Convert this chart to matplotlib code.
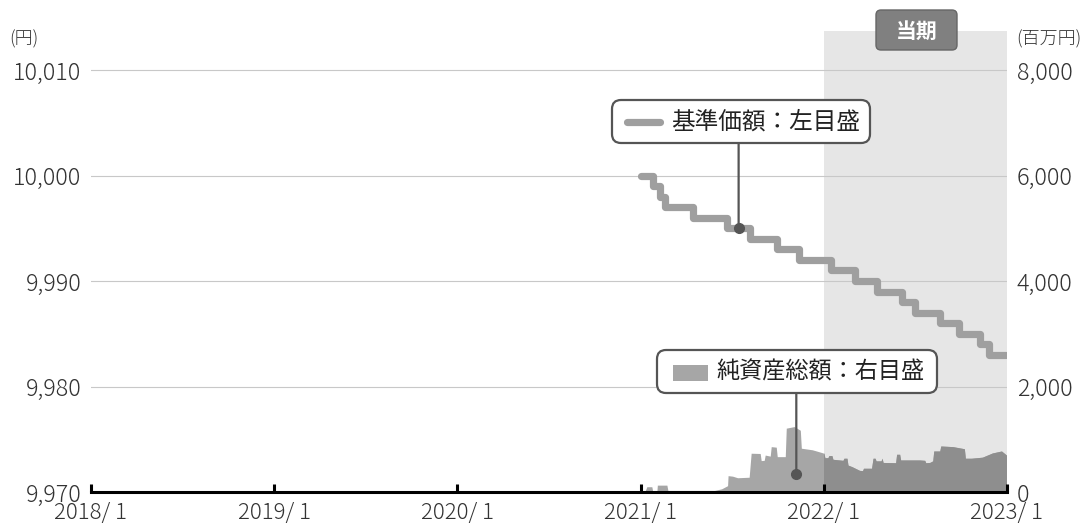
import matplotlib
matplotlib.use('Agg')
import matplotlib.pyplot as plt
import matplotlib.dates as mdates
import matplotlib.transforms as mtransforms
from matplotlib.patches import FancyBboxPatch, Rectangle
from matplotlib.lines import Line2D
import pandas as pd

plt.rcParams['font.family'] = ['Noto Sans CJK JP', 'DejaVu Sans']

# ---------------- data ----------------
nav_dates = ['2021-01-01', '2021-01-25', '2021-02-08', '2021-02-18', '2021-04-15',
             '2021-06-21', '2021-08-06', '2021-09-29', '2021-11-13', '2022-01-15',
             '2022-03-04', '2022-04-17', '2022-06-05', '2022-07-01', '2022-08-20',
             '2022-09-28', '2022-11-08', '2022-11-27', '2022-12-30']
nav_values = [10000, 9999, 9998, 9997, 9996, 9995, 9994, 9993, 9992, 9991,
              9990, 9989, 9988, 9987, 9986, 9985, 9984, 9983, 9983]

asset_dates = ['2021-01-09', '2021-01-13', '2021-01-23', '2021-01-25', '2021-02-02',
               '2021-02-03', '2021-02-22', '2021-02-24', '2021-05-28', '2021-06-11',
               '2021-06-23', '2021-06-24', '2021-07-03', '2021-07-13', '2021-08-05',
               '2021-08-09', '2021-08-27', '2021-08-29', '2021-09-04', '2021-09-06',
               '2021-09-16', '2021-09-18', '2021-09-28', '2021-09-30', '2021-10-16',
               '2021-10-18', '2021-11-03', '2021-11-15', '2021-11-17', '2021-12-09',
               '2021-12-27', '2022-01-01', '2022-01-03', '2022-01-09', '2022-01-11',
               '2022-01-17', '2022-01-19', '2022-02-08', '2022-02-10', '2022-02-16',
               '2022-02-18', '2022-02-26', '2022-03-13', '2022-03-19', '2022-03-21',
               '2022-04-06', '2022-04-09', '2022-04-13', '2022-04-15', '2022-04-25',
               '2022-04-27', '2022-04-29', '2022-05-24', '2022-05-26', '2022-06-01',
               '2022-06-03', '2022-07-11', '2022-07-21', '2022-07-23', '2022-07-31',
               '2022-08-06', '2022-08-08', '2022-08-20', '2022-08-22', '2022-09-15',
               '2022-10-08', '2022-10-10', '2022-10-22', '2022-11-13', '2022-12-03',
               '2022-12-21', '2022-12-31']
asset_values = [0, 100, 100, 0, 0,
                130, 130, 30, 30, 60,
                120, 310, 300, 270, 280,
                735, 730, 595, 600, 700,
                680, 860, 850, 670, 670,
                1210, 1240, 1170, 830, 800,
                750, 735, 650, 650, 690,
                690, 620, 600, 640, 640,
                510, 480, 410, 405, 450,
                450, 640, 640, 590, 590,
                640, 560, 555, 715, 715,
                607, 607, 600, 555, 560,
                590, 777, 777, 872, 860,
                820, 640, 640, 660, 740,
                777, 700]

x_ticks = ['2018-01-01', '2019-01-01', '2020-01-01', '2021-01-01', '2022-01-01', '2023-01-01']
x_tick_labels = ['2018/ 1', '2019/ 1', '2020/ 1', '2021/ 1', '2022/ 1', '2023/ 1']
left_ticks = [9970, 9980, 9990, 10000, 10010]
right_ticks = [0, 2000, 4000, 6000, 8000]
period_start, period_end = '2022-01-01', '2023-01-01'

nav_label = '基準価額：左目盛'
asset_label = '純資産総額：右目盛'
period_label = '当期'

# ---------------- figure ----------------
W, H = 1090, 528
fig = plt.figure(figsize=(W / 100, H / 100), dpi=100)
ax = fig.add_axes([91 / W, 36 / H, (1007 - 91) / W, (492 - 31) / H])
ax2 = ax.twinx()
ax.set_zorder(ax2.get_zorder() + 1)
ax.patch.set_visible(False)

nd = pd.to_datetime(nav_dates)
ad = pd.to_datetime(asset_dates)
ps, pe = pd.Timestamp(period_start), pd.Timestamp(period_end)

ax.set_xlim(pd.Timestamp(x_ticks[0]), pd.Timestamp(x_ticks[-1]))
ax.set_ylim(9970, 9970 + 40 * 461 / 422)
ax2.set_ylim(0, 8000 * 461 / 422)

TXT = '#333333'
FS = 16.8

# shaded current period (on lower axis)
ax2.axvspan(ps, pe, color='#e6e6e6', zorder=0, lw=0)

# net assets area
LIGHT, DARK = '#a6a6a6', '#8e8e8e'
ax2.fill_between(ad, asset_values, 0, color=LIGHT, lw=0, zorder=2)
dark = ax2.fill_between(ad, asset_values, 0, color=DARK, lw=0, zorder=3)
clip = Rectangle((mdates.date2num(ps), 0), mdates.date2num(pe) - mdates.date2num(ps), 1,
                 transform=ax2.get_xaxis_transform())
dark.set_clip_path(clip)

# NAV line
LINEC = '#9f9f9f'
ax.plot(nd, nav_values, drawstyle='steps-post', color=LINEC, lw=5.2,
        solid_joinstyle='round', solid_capstyle='round', zorder=4)

# grid & axes styling
ax.set_yticks(left_ticks)
ax.set_yticklabels([f'{v:,}' for v in left_ticks])
ax.grid(axis='y', color='#c8c8c8', lw=0.8)
ax.set_axisbelow(True)
ax.tick_params(axis='y', length=0, pad=7, labelsize=FS, labelcolor=TXT)
ax.set_xticks(pd.to_datetime(x_ticks))
ax.set_xticklabels(x_tick_labels)
ax.tick_params(axis='x', direction='in', length=6, width=2.2, color='black',
               pad=7, labelsize=16, labelcolor=TXT)
for s in ['top', 'left', 'right']:
    ax.spines[s].set_visible(False)
ax.spines['bottom'].set_linewidth(2.2)
ax.spines['bottom'].set_color('black')

ax2.set_yticks(right_ticks)
ax2.set_yticklabels([f'{v:,}' for v in right_ticks])
ax2.tick_params(axis='y', length=0, pad=7, labelsize=FS, labelcolor=TXT)
for s in ax2.spines.values():
    s.set_visible(False)
for lab in ax.get_xticklabels() + ax.get_yticklabels() + ax2.get_yticklabels():
    lab.set_fontweight('light')

# unit labels
fig.text(9 / W, 1 - 39 / H, '(円)', fontsize=13, color=TXT, va='center', ha='left',
         fontweight='light')
fig.text(1016 / W, 1 - 39 / H, '(百万円)', fontsize=13, color=TXT, va='center', ha='left',
         fontweight='light')

# helper for pixel-based figure placement
T = fig.dpi_scale_trans
def P(x, y):
    return (x / 100, (H - y) / 100)

# 当期 label
x0, y0, x1, y1 = 876, 10, 957, 50
fig.patches.append(FancyBboxPatch(P(x0, y1), (x1 - x0) / 100, (y1 - y0) / 100,
                                  boxstyle='round,pad=0,rounding_size=0.05',
                                  transform=T, facecolor='#808080', edgecolor='#666666',
                                  lw=1.0, zorder=10, figure=fig))
fig.text(*P((x0 + x1) / 2, (y0 + y1) / 2 + 1), period_label, transform=T, color='white',
         fontsize=15, fontweight='bold', ha='center', va='center', zorder=11)

EDGE = '#555555'
# callout 1 (NAV)
bx0, by0, bx1, by1 = 612, 100, 870, 143
fig.patches.append(FancyBboxPatch(P(bx0, by1), (bx1 - bx0) / 100, (by1 - by0) / 100,
                                  boxstyle='round,pad=0,rounding_size=0.09',
                                  transform=T, facecolor='white', edgecolor=EDGE,
                                  lw=1.6, zorder=10, figure=fig))
fig.lines.append(Line2D([627 / 100, 660 / 100], [(H - 122) / 100] * 2,
                        transform=T, color=LINEC, lw=5.2,
                        solid_capstyle='round', zorder=11, figure=fig))
fig.text(*P(671, 122), nav_label, transform=T, fontsize=17, color='#222222',
         ha='left', va='center', zorder=11)
dot1 = (pd.Timestamp('2021-07-15'), 9995)
ax.plot(*dot1, 'o', ms=7, color=EDGE, zorder=6)
blend = mtransforms.blended_transform_factory(ax.transData, fig.transFigure)
ax.annotate('', xy=dot1, xytext=(dot1[0], 1 - by1 / H), textcoords=blend,
            arrowprops=dict(arrowstyle='-', color=EDGE, lw=1.6, shrinkA=0, shrinkB=0),
            zorder=6)

# callout 2 (net assets)
bx0, by0, bx1, by1 = 657, 350, 937, 393
fig.patches.append(FancyBboxPatch(P(bx0, by1), (bx1 - bx0) / 100, (by1 - by0) / 100,
                                  boxstyle='round,pad=0,rounding_size=0.09',
                                  transform=T, facecolor='white', edgecolor=EDGE,
                                  lw=1.6, zorder=10, figure=fig))
fig.patches.append(Rectangle(P(673, 381), 35 / 100, 16 / 100, transform=T,
                             facecolor=LIGHT, lw=0, zorder=11, figure=fig))
fig.text(*P(716, 372), asset_label, transform=T, fontsize=16.7, color='#222222',
         ha='left', va='center', zorder=11)
dot2 = (pd.Timestamp('2021-11-07'), 340)
ax2.plot(*dot2, 'o', ms=7, color=EDGE, zorder=6)
blend2 = mtransforms.blended_transform_factory(ax2.transData, fig.transFigure)
ax2.annotate('', xy=dot2, xytext=(dot2[0], 1 - by1 / H), textcoords=blend2,
             arrowprops=dict(arrowstyle='-', color=EDGE, lw=1.6, shrinkA=0, shrinkB=0),
             zorder=6)

fig.savefig('out.png', dpi=100)
